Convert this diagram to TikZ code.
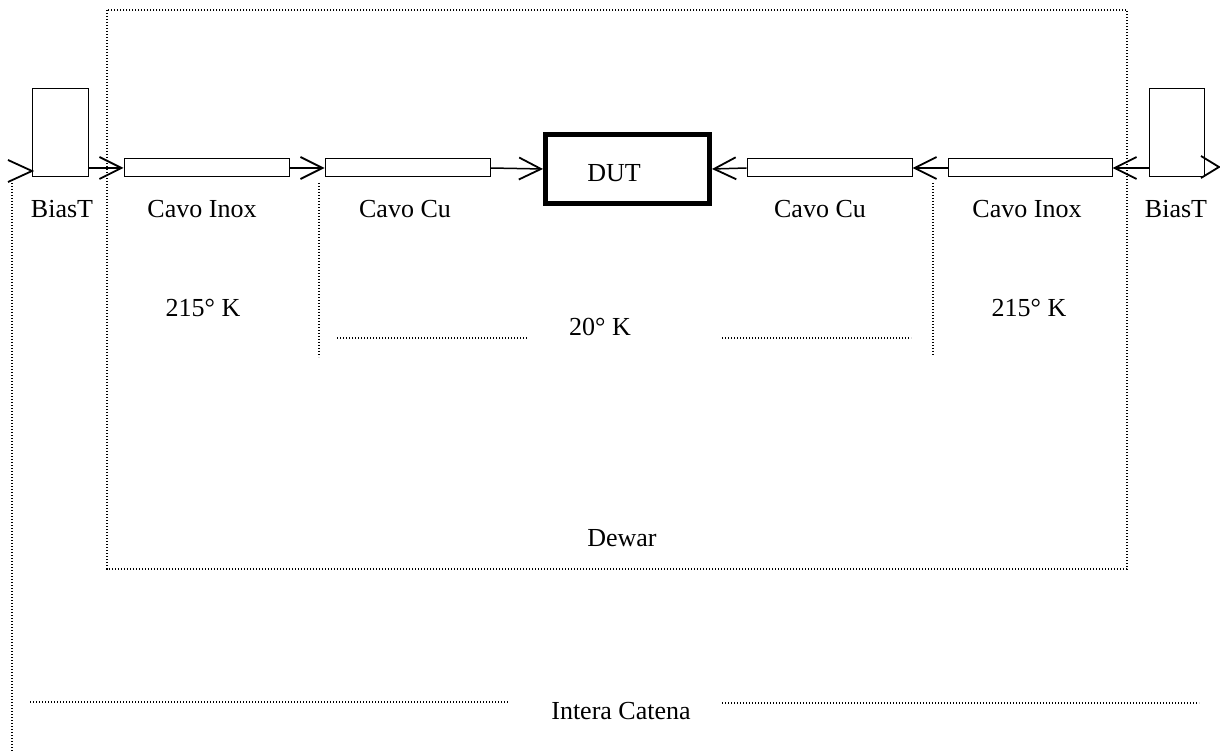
\documentclass[tikz,border=0pt]{standalone}
\usepackage{fontspec}
\setmainfont{Liberation Serif}
\usetikzlibrary{arrows.meta,calc}
\tikzset{
  dotline/.style={line width=1.4pt, dash pattern=on 1.3pt off 1.7pt},
  box/.style={draw, line width=1pt, inner sep=0pt},
  cable/.style={box, minimum height=18pt},
  lbl/.style={font=\fontsize{26}{30}\selectfont, inner sep=0pt, anchor=base},
  conn/.style={line width=1.5pt, -{Straight Barb[length=22pt,width=22pt,line width=1.8pt]}},
  chev/.style={line width=1.8pt},
}
\begin{document}
\begin{tikzpicture}[x=1pt,y=-1pt]
\useasboundingbox (0,0) rectangle (1220,751);
% Dewar
\draw[dotline] (107,10) rectangle (1127,569);
% components
\node[box, minimum width=56pt, minimum height=88pt] (biasL) at (60,133) {};
\node[box, minimum width=55pt, minimum height=88pt] (biasR) at (1176.5,133) {};
\node[cable, minimum width=165pt] (inoxL) at (206.5,168) {};
\node[cable, minimum width=165pt] (cuL) at (407.5,168) {};
\node[cable, minimum width=165pt] (cuR) at (829.5,168) {};
\node[cable, minimum width=164pt] (inoxR) at (1030,168) {};
\node[draw, line width=5pt, minimum width=164pt, minimum height=69pt, inner sep=0pt] (dut) at (627.5,169) {};
% connectors
\draw[conn] (biasL.east |- inoxL.west) -- (inoxL.west);
\draw[conn] (inoxL.east) -- (cuL.west);
\draw[conn] (cuL.east) -- (dut.west);
\draw[conn] (cuR.west) -- (dut.east);
\draw[conn] (inoxR.west) -- (cuR.east);
\draw[conn] (biasR.west |- inoxR.east) -- (inoxR.east);
% chevrons at chain ends
\coordinate (tipL) at (32,171);
\coordinate (tipR) at (1219,167);
\draw[chev] ($(tipL)+(-24,-11)$) -- (tipL) -- ($(tipL)+(-24,11)$);
\draw[chev] ($(tipR)+(-18,-11)$) -- (tipR) -- ($(tipR)+(-18,11)$);
% dotted guide lines
\draw[dotline] (12,183) -- (12,751);
\draw[dotline] (319,183) -- (319,357);
\draw[dotline] (933,183) -- (933,355);
\draw[dotline] (337,338) -- (527,338);
\draw[dotline] (722,338) -- (911,338);
\draw[dotline] (30,702) -- (508,702);
\draw[dotline] (722,703) -- (1199,703);
% labels
\node[lbl] (tDUT) at (614,182) {DUT};
\node[lbl] (tBiasL) at (62,218) {BiasT};
\node[lbl] (tInoxL) at (202,218) {Cavo Inox};
\node[lbl] (tCuL) at (405,218) {Cavo Cu};
\node[lbl] (tCuR) at (820,218) {Cavo Cu};
\node[lbl] (tInoxR) at (1027,218) {Cavo Inox};
\node[lbl] (tBiasR) at (1176,218) {BiasT};
\node[lbl] (tK1) at (203,316) {215° K};
\node[lbl] (tK2) at (1029,316) {215° K};
\node[lbl] (tK3) at (600,335) {20° K};
\node[lbl] (tDewar) at (622,546) {Dewar};
\node[lbl] (tChain) at (621,719) {Intera Catena};
\end{tikzpicture}
\end{document}
